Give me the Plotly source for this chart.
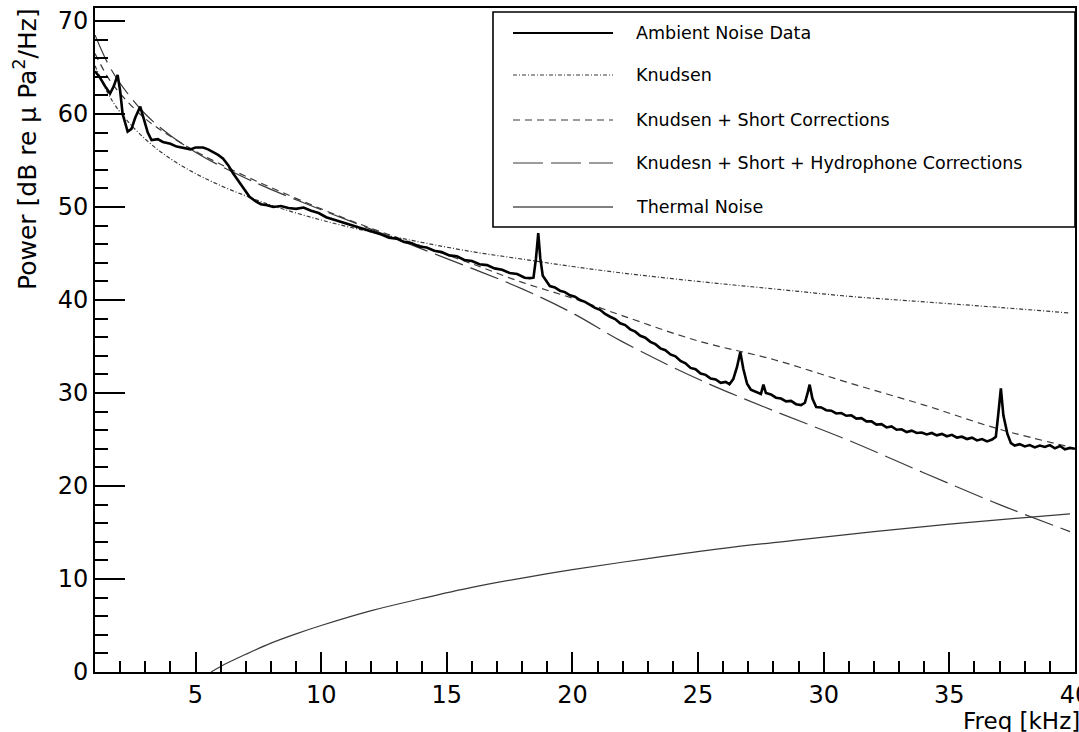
import plotly.graph_objects as go

# Frequency axis samples (kHz) and measured ambient noise power (dB re uPa^2/Hz)
freq_data = [1.0, 1.2, 1.4, 1.6, 1.75, 1.9, 2.0, 2.1, 2.3, 2.45, 2.6, 2.8, 2.95, 3.1, 3.25, 3.5,
             3.7, 4.0, 4.25, 4.5, 4.8, 5.0, 5.3, 5.5, 5.7, 5.9, 6.1, 6.3, 6.5, 6.7, 6.9, 7.15,
             7.4, 7.6, 7.85, 8.1, 8.4, 8.7, 9.0, 9.3, 9.6, 9.9, 10.2, 10.5, 10.8, 11.1, 11.45,
             11.8, 12.1, 12.4, 12.7, 13.0, 13.3, 13.6, 13.9, 14.2, 14.5, 14.8, 15.1, 15.4, 15.7,
             16.0, 16.3, 16.6, 16.9, 17.2, 17.5, 17.8, 18.1, 18.31, 18.45, 18.55, 18.64, 18.72,
             18.82, 18.91, 19.1, 19.3, 19.5, 19.7, 19.9, 20.1, 20.3, 20.5, 20.7, 20.9, 21.1,
             21.3, 21.5, 21.7, 21.9, 22.1, 22.3, 22.5, 22.7, 22.9, 23.1, 23.3, 23.5, 23.7, 23.9,
             24.1, 24.3, 24.5, 24.7, 24.9, 25.1, 25.3, 25.5, 25.7, 25.9, 26.1, 26.25, 26.4,
             26.55, 26.68, 26.8, 26.95, 27.1, 27.3, 27.5, 27.6, 27.7, 27.9, 28.1, 28.3, 28.5,
             28.7, 28.9, 29.1, 29.25, 29.35, 29.44, 29.55, 29.7, 29.9, 30.1, 30.3, 30.5, 30.7,
             30.9, 31.1, 31.3, 31.5, 31.7, 31.9, 32.1, 32.3, 32.5, 32.7, 32.9, 33.1, 33.3, 33.5,
             33.7, 33.9, 34.1, 34.3, 34.5, 34.7, 34.9, 35.1, 35.3, 35.5, 35.7, 35.9, 36.1, 36.3,
             36.5, 36.7, 36.85, 36.95, 37.05, 37.15, 37.31, 37.45, 37.6, 37.8, 38.0, 38.2, 38.4,
             38.6, 38.8, 39.0, 39.2, 39.4, 39.6, 39.8, 40.0]
power_data = [64.6, 63.9, 63.0, 62.2, 63.0, 64.2, 62.5, 60.0, 58.1, 58.4, 59.6, 60.8, 59.4, 58.0,
              57.2, 57.3, 57.0, 56.8, 56.5, 56.4, 56.2, 56.4, 56.4, 56.2, 55.9, 55.6, 55.2, 54.5,
              53.6, 52.8, 52.0, 51.1, 50.6, 50.3, 50.2, 50.0, 50.1, 49.9, 49.8, 49.95, 49.6,
              49.35, 48.9, 48.65, 48.35, 48.15, 47.8, 47.55, 47.25, 47.05, 46.7, 46.6, 46.25,
              46.1, 45.75, 45.65, 45.3, 45.15, 44.8, 44.7, 44.3, 44.2, 43.85, 43.75, 43.4, 43.25,
              42.9, 42.8, 42.4, 42.35, 42.4, 44.5, 47.2, 44.5, 42.6, 42.2, 41.5, 41.35, 41.0,
              40.85, 40.5, 40.35, 40.0, 39.8, 39.5, 39.15, 38.95, 38.5, 38.2, 37.95, 37.5, 37.3,
              36.85, 36.6, 36.15, 35.95, 35.5, 35.25, 34.8, 34.6, 34.15, 33.95, 33.45, 33.2,
              32.7, 32.55, 32.1, 31.95, 31.55, 31.45, 31.1, 31.2, 30.95, 31.5, 32.8, 34.4, 32.6,
              31.0, 30.35, 30.1, 29.9, 30.9, 30.0, 29.85, 29.5, 29.4, 29.1, 29.15, 28.8, 28.7,
              28.95, 29.9, 30.9, 29.4, 28.5, 28.45, 28.15, 28.1, 27.8, 27.85, 27.55, 27.6, 27.25,
              27.3, 26.95, 26.95, 26.6, 26.65, 26.3, 26.4, 26.05, 26.1, 25.8, 25.95, 25.7, 25.75,
              25.55, 25.7, 25.45, 25.6, 25.35, 25.5, 25.2, 25.3, 25.05, 25.2, 24.9, 25.05, 24.8,
              25.0, 25.3, 27.8, 30.5, 27.6, 25.6, 24.6, 24.35, 24.5, 24.25, 24.4, 24.15, 24.35,
              24.2, 24.4, 24.05, 24.3, 23.95, 24.1, 24.0]

# Model curves sampled on a common frequency grid (kHz)
freq_model = [1, 1.5, 2, 3, 4, 5, 6, 7, 8, 10, 12, 14, 16, 18, 20, 22, 25, 28, 31, 34, 37, 39.8]
knudsen = [65.2, 62.3, 60.2, 57.3, 55.2, 53.6, 52.3, 51.2, 50.2, 48.6, 47.3, 46.2, 45.2, 44.4,
           43.6, 42.9, 42.0, 41.2, 40.4, 39.8, 39.2, 38.6]
knudsen_short = [66.5, 64.0, 62.2, 59.5, 57.6, 56.0, 54.6, 53.3, 52.1, 49.8, 47.7, 45.8, 43.9,
                 41.9, 40.2, 38.3, 35.6, 33.6, 31.1, 28.7, 26.1, 24.2]
knudsen_short_hydro = [68.5, 65.5, 63.3, 60.0, 57.7, 55.9, 54.4, 53.1, 51.9, 49.7, 47.6, 45.5,
                       43.4, 41.2, 38.6, 35.5, 31.5, 28.1, 24.9, 21.4, 18.0, 15.1]

freq_thermal = [5.62, 6, 7, 8, 9, 10, 12, 14, 16, 18, 20, 23, 26, 29, 32, 35, 38, 39.8]
thermal = [0.0, 0.6, 1.9, 3.1, 4.1, 5.0, 6.6, 7.9, 9.1, 10.1, 11.0, 12.2, 13.3, 14.2, 15.1,
           15.9, 16.6, 17.0]

legend_labels = ["Ambient Noise Data", "Knudsen", "Knudsen + Short Corrections",
                 "Knudesn + Short + Hydrophone Corrections", "Thermal Noise"]

FONT = "DejaVu Sans"
W, H = 1079, 732
L, R, T, B = 95, 4, 8, 60
PW, PH = W - L - R, H - T - B

KN_DASH = "4px,2px,1px,2px"
KS_DASH = "7px,5px"
KH_DASH = "30px,8px"
MODEL_COLOR = "#3a3a3a"

fig = go.Figure()
fig.add_trace(go.Scatter(x=freq_thermal, y=thermal, mode="lines", line_shape="spline",
                         line=dict(color=MODEL_COLOR, width=1.2)))
fig.add_trace(go.Scatter(x=freq_model, y=knudsen_short_hydro, mode="lines", line_shape="spline",
                         line=dict(color=MODEL_COLOR, width=1.2, dash=KH_DASH)))
fig.add_trace(go.Scatter(x=freq_model, y=knudsen_short, mode="lines", line_shape="spline",
                         line=dict(color=MODEL_COLOR, width=1.2, dash=KS_DASH)))
fig.add_trace(go.Scatter(x=freq_model, y=knudsen, mode="lines", line_shape="spline",
                         line=dict(color=MODEL_COLOR, width=1.2, dash=KN_DASH)))
fig.add_trace(go.Scatter(x=freq_data, y=power_data, mode="lines",
                         line=dict(color="black", width=2.6)))


def px_x(x):
    return (x - L) / PW


def px_y(y):
    return (H - B - y) / PH


# Legend box drawn in paper coordinates
shapes = [dict(type="rect", xref="paper", yref="paper",
               x0=px_x(493), x1=px_x(1075), y0=px_y(227), y1=px_y(12),
               line=dict(color="black", width=1.6), fillcolor="white", layer="below")]
row_y = [33, 75, 120, 163, 207]
styles = [dict(color="black", width=2.2), dict(color=MODEL_COLOR, width=1.2, dash=KN_DASH),
          dict(color=MODEL_COLOR, width=1.2, dash=KS_DASH),
          dict(color=MODEL_COLOR, width=1.2, dash=KH_DASH), dict(color="black", width=1.2)]
annotations = []
for yy, st, lab in zip(row_y, styles, legend_labels):
    shapes.append(dict(type="line", xref="paper", yref="paper", x0=px_x(513), x1=px_x(613),
                       y0=px_y(yy), y1=px_y(yy), line=st))
    annotations.append(dict(xref="paper", yref="paper", x=px_x(634), y=px_y(yy), text=lab,
                            showarrow=False, xanchor="left", yanchor="middle",
                            font=dict(family=FONT, size=17.5, color="black")))

annotations.append(dict(xref="paper", yref="paper", x=px_x(26), y=px_y(6),
                        text="Power [dB re \u03bc Pa<sup>2</sup>/Hz]", textangle=-90,
                        showarrow=False, xanchor="center", yanchor="top",
                        font=dict(family=FONT, size=25, color="black")))
annotations.append(dict(xref="paper", yref="paper", x=px_x(1082), y=px_y(721),
                        text="Freq [kHz]", showarrow=False, xanchor="right", yanchor="middle",
                        font=dict(family=FONT, size=23, color="black")))

axis_common = dict(showline=True, linecolor="black", linewidth=2, mirror=True,
                   showgrid=False, zeroline=False, ticks="inside", tickcolor="black",
                   tickwidth=1.6, automargin=False,
                   tickfont=dict(family=FONT, size=24, color="black"))

fig.update_layout(
    width=W, height=H, margin=dict(l=L, r=R, t=T, b=B, autoexpand=False),
    paper_bgcolor="white", plot_bgcolor="white", showlegend=False,
    xaxis=dict(range=[1, 40], dtick=5, tick0=0, ticklen=20, ticklabeloverflow="allow",
               minor=dict(dtick=1, tick0=0, ticks="inside", ticklen=11, tickcolor="black",
                          tickwidth=1.6),
               **axis_common),
    yaxis=dict(range=[0, 71.4], dtick=10, tick0=0, ticklen=30,
               minor=dict(dtick=2, tick0=0, ticks="inside", ticklen=13, tickcolor="black",
                          tickwidth=1.6),
               **axis_common),
    shapes=shapes, annotations=annotations,
)

fig.write_html("out.html")
